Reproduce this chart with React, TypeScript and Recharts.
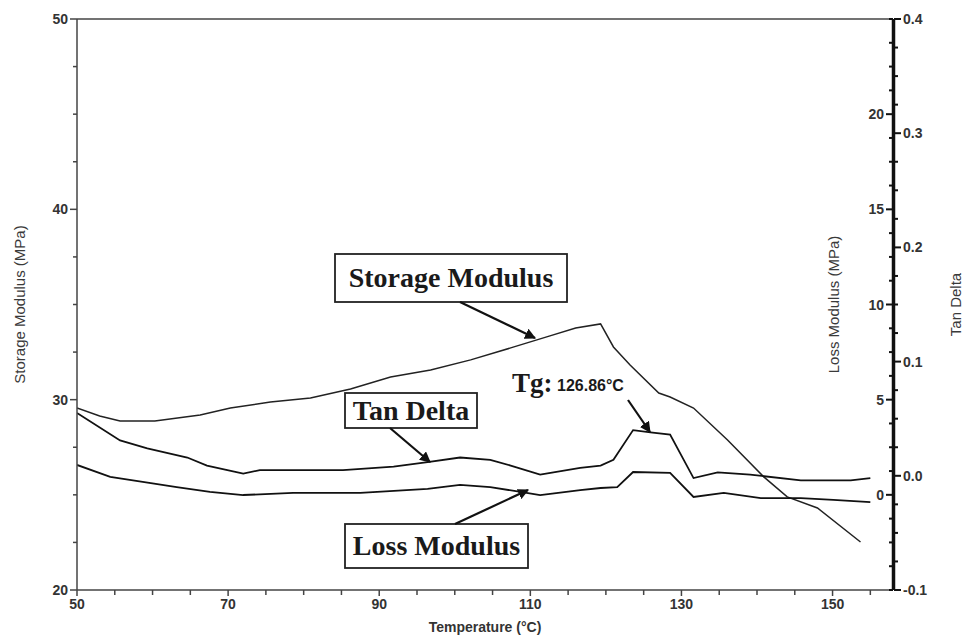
import React from 'react';
import { LineChart, Line, XAxis, YAxis, ReferenceLine } from 'recharts';

// values
const storageTemp = [50, 53, 55.7, 60.3, 66.3, 70.3, 75.6, 80.9, 86.2, 91.5, 96.8, 102.1, 107.4, 112.6, 116, 119.3, 121, 123.2, 127, 128.5, 131.6, 136.1, 140.9, 144, 148, 153.7];
const storageValue = [29.56, 29.14, 28.88, 28.88, 29.2, 29.56, 29.88, 30.09, 30.56, 31.19, 31.56, 32.09, 32.72, 33.35, 33.77, 33.98, 32.77, 31.82, 30.35, 30.14, 29.56, 27.88, 25.94, 24.89, 24.31, 22.52];

const tanTemp = [50, 55.7, 59.3, 64.6, 67.2, 72, 74.2, 80.9, 85.2, 91.9, 96.4, 100.7, 104.7, 107.4, 111.3, 116.6, 119.3, 121, 123.6, 125.9, 128.5, 131.6, 134.8, 139.1, 145.8, 152.4, 155];
const tanValue = [0.055, 0.031, 0.024, 0.016, 0.009, 0.002, 0.005, 0.005, 0.005, 0.008, 0.012, 0.016, 0.014, 0.009, 0.001, 0.007, 0.009, 0.014, 0.04, 0.038, 0.036, -0.002, 0.003, 0.001, -0.004, -0.004, -0.002];

const lossTemp = [50, 54.4, 58.7, 63.2, 67.6, 72, 78.6, 87.5, 96.4, 100.7, 104.7, 108.7, 111.3, 116.6, 119.3, 121.5, 123.6, 128.5, 131.6, 135.6, 140.5, 145.8, 150.1, 155];
const lossValue = [1.57, 0.94, 0.68, 0.41, 0.15, -0.01, 0.1, 0.1, 0.31, 0.52, 0.41, 0.15, -0.01, 0.25, 0.36, 0.41, 1.2, 1.15, -0.11, 0.1, -0.17, -0.17, -0.27, -0.38];

const xTicks = [50, 55, 60, 65, 70, 75, 80, 85, 90, 95, 100, 105, 110, 115, 120, 125, 130, 135, 140, 145, 150, 155];
const xLabelled = [50, 70, 90, 110, 130, 150];
const storageTicks = [20, 22.5, 25, 27.5, 30, 32.5, 35, 37.5, 40, 42.5, 45, 47.5, 50];
const storageLabelled = [20, 30, 40, 50];
const lossTicks = [-5, -3.75, -2.5, -1.25, 0, 1.25, 2.5, 3.75, 5, 6.25, 7.5, 8.75, 10, 11.25, 12.5, 13.75, 15, 16.25, 17.5, 18.75, 20, 21.25, 22.5, 23.75, 25];
const lossLabelled = [0, 5, 10, 15, 20];
const tanTicks = [-0.1, -0.075, -0.05, -0.025, 0, 0.025, 0.05, 0.075, 0.1, 0.125, 0.15, 0.175, 0.2, 0.225, 0.25, 0.275, 0.3, 0.325, 0.35, 0.375, 0.4];
const tanLabelled = [-0.1, 0, 0.1, 0.2, 0.3, 0.4];

const storageData = storageTemp.map((t, i) => ({ t, v: storageValue[i] }));
const tanData = tanTemp.map((t, i) => ({ t, v: tanValue[i] }));
const lossData = lossTemp.map((t, i) => ({ t, v: lossValue[i] }));

const AXIS = '#444';
const sans = '"Liberation Sans", Arial, sans-serif';
const serif = '"Liberation Serif", "Times New Roman", serif';
const tickText = { fontFamily: sans, fontSize: 14, fontWeight: 700, fill: '#333' };

const isIn = (list: number[], v: number) => list.some((l) => Math.abs(l - v) < 1e-6);

const BottomTick = ({ x, y, payload }: any) => {
  const lab = isIn(xLabelled, payload.value);
  return (
    <g>
      <line x1={x} x2={x} y1={y} y2={y + (lab ? 6 : 5)} stroke={AXIS} strokeWidth={1.5} />
      {lab && (
        <text x={x} y={y + 19} textAnchor="middle" {...tickText}>
          {payload.value}
        </text>
      )}
    </g>
  );
};

const LeftTick = ({ x, y, payload }: any) => {
  const lab = isIn(storageLabelled, payload.value);
  return (
    <g>
      <line x1={x} x2={x - (lab ? 7 : 4)} y1={y} y2={y} stroke={AXIS} strokeWidth={1.5} />
      {lab && (
        <text x={x - 9} y={y + 5} textAnchor="end" {...tickText}>
          {payload.value}
        </text>
      )}
    </g>
  );
};

// loss modulus ticks sit on the inner side of the right axis line
const LossTick = ({ x, y, payload }: any) => {
  const lab = isIn(lossLabelled, payload.value);
  return (
    <g>
      <line x1={x} x2={x - (lab ? 7 : 4)} y1={y} y2={y} stroke="#111" strokeWidth={2} />
      {lab && (
        <text x={x - 9} y={y + 5} textAnchor="end" {...tickText}>
          {payload.value}
        </text>
      )}
    </g>
  );
};

const TanTick = ({ x, y, payload }: any) => {
  const lab = isIn(tanLabelled, payload.value);
  return (
    <g>
      <line x1={x} x2={x + (lab ? 7 : 4)} y1={y} y2={y} stroke="#111" strokeWidth={2} />
      {lab && (
        <text x={x + 9} y={y + 5} textAnchor="start" {...tickText}>
          {payload.value.toFixed(1)}
        </text>
      )}
    </g>
  );
};

const vTitle = (text: string, dx: number) => (props: any) => {
  const vb = props.viewBox || {};
  const cx = vb.x + dx;
  const cy = vb.y + vb.height / 2;
  return (
    <text
      x={cx}
      y={cy}
      transform={`rotate(-90 ${cx} ${cy})`}
      textAnchor="middle"
      dominantBaseline="central"
      fontFamily={sans}
      fontSize={15}
      fill="#3a3a3a"
    >
      {text}
    </text>
  );
};

const hTitle = (props: any) => {
  const vb = props.viewBox || {};
  return (
    <text x={vb.x + vb.width / 2} y={632} textAnchor="middle" fontFamily={sans} fontSize={14} fontWeight={700} fill="#333">
      Temperature (°C)
    </text>
  );
};

const Box = ({ x, y, w, h, text }: any) => (
  <g>
    <rect x={x} y={y} width={w} height={h} fill="#fff" stroke="#222" strokeWidth={1.8} />
    <text x={x + w / 2} y={y + h / 2 + 9} textAnchor="middle" fontFamily={serif} fontWeight={700} fontSize={28} fill="#1a1a1a">
      {text}
    </text>
  </g>
);

const Arrow = ({ x1, y1, x2, y2 }: any) => (
  <line x1={x1} y1={y1} x2={x2} y2={y2} stroke="#111" strokeWidth={2.2} markerEnd="url(#head)" />
);

export default function App() {
  return (
    <div style={{ margin: -8, width: 971, height: 644, position: 'relative', background: '#fff' }}>
      <LineChart width={971} height={644} margin={{ top: 19, right: 76, bottom: 0, left: 0 }}>
        <XAxis
          dataKey="t"
          type="number"
          domain={[50, 158]}
          ticks={xTicks}
          interval={0}
          height={54}
          tickSize={0}
          tickMargin={0}
          tickLine={false}
          stroke={AXIS}
          strokeWidth={1.5}
          tick={(p: any) => <BottomTick {...p} />}
          label={{ content: hTitle }}
          allowDataOverflow
        />
        <YAxis
          yAxisId="sm"
          type="number"
          domain={[20, 50]}
          ticks={storageTicks}
          interval={0}
          width={77}
          tickSize={0}
          tickMargin={0}
          tickLine={false}
          stroke={AXIS}
          strokeWidth={1.5}
          tick={(p: any) => <LeftTick {...p} />}
          label={{ content: vTitle('Storage Modulus (MPa)', 19) }}
        />
        <YAxis
          yAxisId="lm"
          orientation="right"
          type="number"
          domain={[-5, 25]}
          ticks={lossTicks}
          interval={0}
          width={1}
          tickSize={0}
          tickMargin={0}
          tickLine={false}
          stroke="#111"
          strokeWidth={2.5}
          tick={(p: any) => <LossTick {...p} />}
          label={{ content: vTitle('Loss Modulus (MPa)', -60) }}
        />
        <YAxis
          yAxisId="td"
          orientation="right"
          type="number"
          domain={[-0.1, 0.4]}
          ticks={tanTicks}
          interval={0}
          width={1}
          tickSize={0}
          tickMargin={0}
          tickLine={false}
          stroke="#111"
          strokeWidth={2.5}
          tick={(p: any) => <TanTick {...p} />}
          label={{ content: vTitle('Tan Delta', 61) }}
        />
        <ReferenceLine yAxisId="sm" y={50} stroke={AXIS} strokeWidth={1.5} />
        <Line yAxisId="sm" data={storageData} dataKey="v" type="linear" dot={false} stroke="#222" strokeWidth={1.5} isAnimationActive={false} />
        <Line yAxisId="td" data={tanData} dataKey="v" type="linear" dot={false} stroke="#111" strokeWidth={1.8} isAnimationActive={false} />
        <Line yAxisId="lm" data={lossData} dataKey="v" type="linear" dot={false} stroke="#111" strokeWidth={1.8} isAnimationActive={false} />
      </LineChart>
      <svg width={971} height={644} style={{ position: 'absolute', left: 0, top: 0, pointerEvents: 'none' }}>
        <defs>
          <marker id="head" viewBox="0 0 10 10" refX={9} refY={5} markerWidth={5} markerHeight={5} orient="auto">
            <path d="M0,0 L10,5 L0,10 z" fill="#111" />
          </marker>
        </defs>
        <Box x={335} y={254} w={232} h={48} text="Storage Modulus" />
        <Arrow x1={460} y1={302} x2={535} y2={338} />
        <Box x={345} y={393} w={132} h={35} text="Tan Delta" />
        <Arrow x1={390} y1={428} x2={430} y2={462} />
        <Box x={345} y={524} w={183} h={44} text="Loss Modulus" />
        <Arrow x1={455} y1={524} x2={528} y2={490} />
        <text x={512} y={392} fontFamily={serif} fontWeight={700} fontSize={27} fill="#1a1a1a">
          Tg:
        </text>
        <text x={557} y={391} fontFamily={sans} fontWeight={700} fontSize={16} fill="#1a1a1a">
          126.86°C
        </text>
        <Arrow x1={628} y1={400} x2={650} y2={432} />
      </svg>
    </div>
  );
}
